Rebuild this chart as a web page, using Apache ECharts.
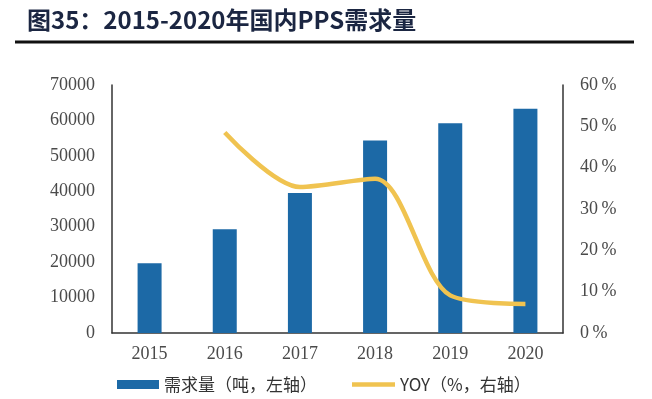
<!DOCTYPE html>
<html>
<head>
<meta charset="utf-8">
<script src="https://cdn.jsdelivr.net/npm/echarts@6/dist/echarts.min.js"></script>
<style>
  html, body { margin: 0; padding: 0; background: #fff; }
  #chart { width: 652px; height: 399px; }
</style>
</head>
<body>
<div id="chart"></div>
<script>
const years = ["2015", "2016", "2017", "2018", "2019", "2020"];
const demand = [19700, 29300, 39500, 54300, 59200, 63300];
const yoy = [null, 48.5, 35.3, 37.3, 9.1, 7.0];

const serif = "'Liberation Serif', 'DejaVu Serif', serif";
const cjk = "'Noto Sans CJK SC', sans-serif";
const legendText = { color: "#333", fontSize: 17, fontFamily: cjk };

const chart = echarts.init(document.getElementById("chart"));

chart.setOption({
  backgroundColor: "#ffffff",
  animation: false,
  title: {
    text: "图35：2015-2020年国内PPS需求量",
    left: 22,
    top: 3,
    textStyle: { color: "#1b2642", fontSize: 24, fontWeight: "bold", fontFamily: cjk },
  },
  graphic: [
    {
      type: "line",
      shape: { x1: 15, y1: 42, x2: 634, y2: 42 },
      style: { stroke: "#111", lineWidth: 3 },
    },
  ],
  grid: { left: 112, right: 89, top: 85, bottom: 66 },
  legend: [
    {
      left: 112,
      bottom: 1,
      itemWidth: 42,
      itemHeight: 9,
      textStyle: legendText,
      data: [{ name: "需求量（吨，左轴）", icon: "rect" }],
    },
    {
      left: 347,
      bottom: 1,
      itemWidth: 43,
      itemHeight: 4.5,
      textStyle: legendText,
      data: [{ name: "YOY（%，右轴）", icon: "rect" }],
    },
  ],
  xAxis: {
    type: "category",
    data: years,
    axisTick: { show: false },
    axisLine: { lineStyle: { color: "#333", width: 1.5 } },
    axisLabel: { color: "#4a4a4a", fontSize: 18, fontFamily: serif, margin: 12 },
  },
  yAxis: [
    {
      type: "value",
      min: 0,
      max: 70000,
      interval: 10000,
      splitLine: { show: false },
      axisTick: { show: false },
      axisLine: { show: true, lineStyle: { color: "#333", width: 1.5 } },
      axisLabel: {
        color: "#4a4a4a",
        fontSize: 18,
        fontFamily: serif,
        margin: 17,
        formatter: (v) => String(v),
      },
    },
    {
      type: "value",
      min: 0,
      max: 60,
      interval: 10,
      position: "right",
      splitLine: { show: false },
      axisTick: { show: false },
      axisLine: { show: true, lineStyle: { color: "#333", width: 1.5 } },
      axisLabel: {
        color: "#4a4a4a",
        fontSize: 18,
        fontFamily: serif,
        margin: 17,
        formatter: (v) => v + "\u2009%",
      },
    },
  ],
  series: [
    {
      name: "需求量（吨，左轴）",
      type: "bar",
      data: demand,
      barWidth: 24,
      itemStyle: { color: "#1c69a6" },
    },
    {
      name: "YOY（%，右轴）",
      type: "line",
      yAxisIndex: 1,
      data: yoy,
      smooth: 0.3,
      symbol: "none",
      showSymbol: false,
      lineStyle: { color: "#f0c350", width: 4.5 },
      itemStyle: { color: "#f0c350" },
    },
  ],
});
</script>
</body>
</html>
